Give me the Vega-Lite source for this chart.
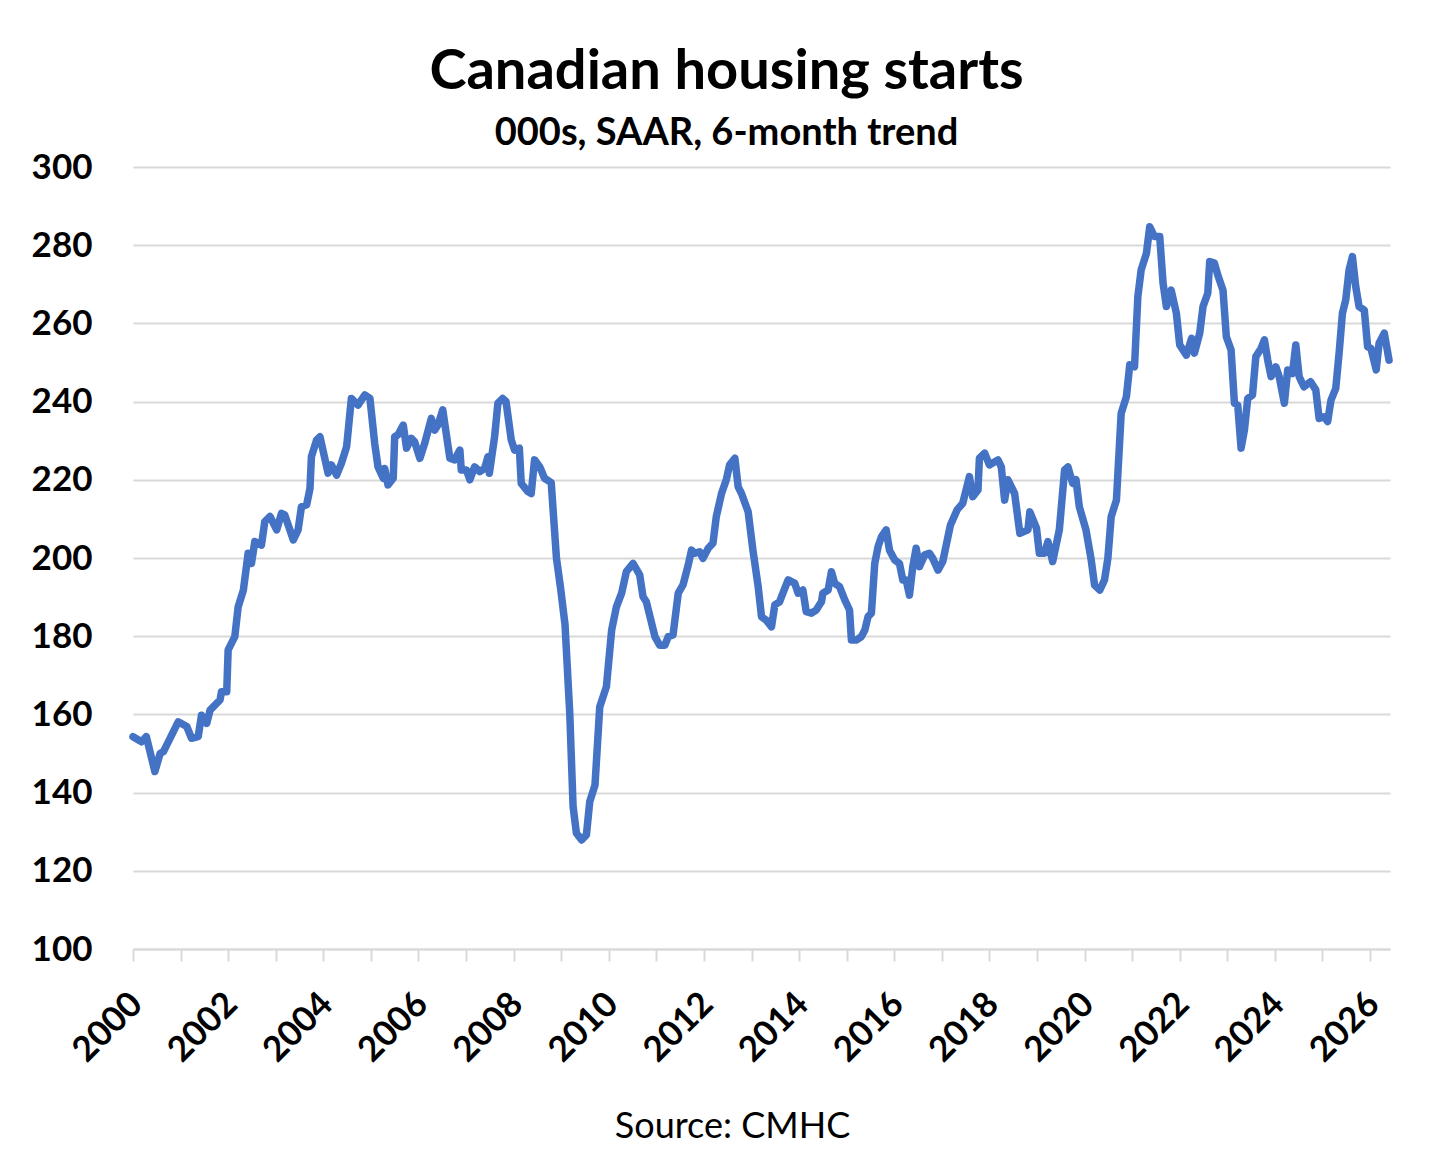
{
  "$schema": "https://vega.github.io/schema/vega-lite/v6.json",
  "description": "Canadian housing starts, 000s, SAAR, 6-month trend (source: CMHC).",
  "width": 1257,
  "height": 782,
  "autosize": {"type": "none"},
  "padding": {"left": 133, "top": 167, "right": 66, "bottom": 213},
  "background": "white",
  "title": {
    "text": "Canadian housing starts",
    "subtitle": "000s, SAAR, 6-month trend",
    "anchor": "middle",
    "frame": "group",
    "dx": -35,
    "offset": -4,
    "font": "Lato",
    "fontSize": 56,
    "fontWeight": "bold",
    "color": "black",
    "subtitleFont": "Lato",
    "subtitleFontSize": 38,
    "subtitleFontWeight": "bold",
    "subtitleColor": "black",
    "subtitlePadding": 14
  },
  "data": {
    "values": [
      {"year": 2000.00, "starts": 154.3}, {"year": 2000.18, "starts": 153.0}, {"year": 2000.28, "starts": 154.3},
      {"year": 2000.46, "starts": 145.4}, {"year": 2000.57, "starts": 150.0}, {"year": 2000.64, "starts": 150.5},
      {"year": 2000.95, "starts": 158.1}, {"year": 2001.13, "starts": 156.9}, {"year": 2001.23, "starts": 153.9},
      {"year": 2001.37, "starts": 154.3}, {"year": 2001.44, "starts": 159.8}, {"year": 2001.55, "starts": 157.7},
      {"year": 2001.62, "starts": 161.1}, {"year": 2001.83, "starts": 163.7}, {"year": 2001.86, "starts": 165.8},
      {"year": 2001.97, "starts": 165.8}, {"year": 2002.00, "starts": 176.5}, {"year": 2002.14, "starts": 179.9},
      {"year": 2002.21, "starts": 187.5}, {"year": 2002.32, "starts": 191.8}, {"year": 2002.42, "starts": 201.2},
      {"year": 2002.49, "starts": 198.6}, {"year": 2002.56, "starts": 204.2}, {"year": 2002.70, "starts": 203.3},
      {"year": 2002.77, "starts": 209.3}, {"year": 2002.88, "starts": 210.6}, {"year": 2003.02, "starts": 207.2},
      {"year": 2003.12, "starts": 211.4}, {"year": 2003.19, "starts": 211.0}, {"year": 2003.37, "starts": 204.6},
      {"year": 2003.47, "starts": 207.2}, {"year": 2003.54, "starts": 213.1}, {"year": 2003.65, "starts": 213.6},
      {"year": 2003.72, "starts": 217.8}, {"year": 2003.75, "starts": 225.9}, {"year": 2003.86, "starts": 230.2},
      {"year": 2003.93, "starts": 231.0}, {"year": 2004.10, "starts": 221.7}, {"year": 2004.17, "starts": 223.8},
      {"year": 2004.28, "starts": 221.2}, {"year": 2004.38, "starts": 224.2}, {"year": 2004.49, "starts": 228.5},
      {"year": 2004.59, "starts": 240.8}, {"year": 2004.73, "starts": 239.1}, {"year": 2004.87, "starts": 241.7},
      {"year": 2004.98, "starts": 240.8}, {"year": 2005.08, "starts": 229.3}, {"year": 2005.15, "starts": 223.3},
      {"year": 2005.26, "starts": 220.4}, {"year": 2005.29, "starts": 222.9}, {"year": 2005.36, "starts": 218.7},
      {"year": 2005.47, "starts": 220.4}, {"year": 2005.50, "starts": 231.0}, {"year": 2005.57, "starts": 231.5},
      {"year": 2005.68, "starts": 234.0}, {"year": 2005.75, "starts": 228.1}, {"year": 2005.85, "starts": 230.6},
      {"year": 2005.92, "starts": 229.7}, {"year": 2006.03, "starts": 225.5}, {"year": 2006.13, "starts": 229.3},
      {"year": 2006.27, "starts": 235.7}, {"year": 2006.34, "starts": 232.7}, {"year": 2006.41, "starts": 234.0},
      {"year": 2006.51, "starts": 237.9}, {"year": 2006.66, "starts": 225.5}, {"year": 2006.76, "starts": 225.1},
      {"year": 2006.87, "starts": 227.6}, {"year": 2006.90, "starts": 222.5}, {"year": 2007.01, "starts": 222.5},
      {"year": 2007.08, "starts": 220.0}, {"year": 2007.18, "starts": 223.3}, {"year": 2007.29, "starts": 222.1},
      {"year": 2007.39, "starts": 222.9}, {"year": 2007.46, "starts": 225.9}, {"year": 2007.49, "starts": 221.7},
      {"year": 2007.60, "starts": 231.0}, {"year": 2007.67, "starts": 239.6}, {"year": 2007.77, "starts": 240.8},
      {"year": 2007.84, "starts": 240.0}, {"year": 2007.95, "starts": 230.2}, {"year": 2008.02, "starts": 227.6},
      {"year": 2008.12, "starts": 228.1}, {"year": 2008.16, "starts": 219.1}, {"year": 2008.30, "starts": 217.0},
      {"year": 2008.37, "starts": 216.5}, {"year": 2008.44, "starts": 225.1}, {"year": 2008.55, "starts": 223.3},
      {"year": 2008.65, "starts": 220.4}, {"year": 2008.79, "starts": 219.3}, {"year": 2008.90, "starts": 200.0},
      {"year": 2008.99, "starts": 192.0}, {"year": 2009.08, "starts": 183.0}, {"year": 2009.18, "starts": 160.3},
      {"year": 2009.25, "starts": 136.4}, {"year": 2009.32, "starts": 129.6}, {"year": 2009.43, "starts": 127.9},
      {"year": 2009.53, "starts": 129.2}, {"year": 2009.60, "starts": 137.7}, {"year": 2009.71, "starts": 141.9},
      {"year": 2009.81, "starts": 161.9}, {"year": 2009.95, "starts": 167.1}, {"year": 2010.06, "starts": 181.5},
      {"year": 2010.16, "starts": 187.5}, {"year": 2010.27, "starts": 191.0}, {"year": 2010.37, "starts": 196.5},
      {"year": 2010.51, "starts": 198.6}, {"year": 2010.65, "starts": 195.7}, {"year": 2010.72, "starts": 190.1},
      {"year": 2010.79, "starts": 188.8}, {"year": 2010.97, "starts": 179.9}, {"year": 2011.07, "starts": 177.7},
      {"year": 2011.18, "starts": 177.7}, {"year": 2011.25, "starts": 179.9}, {"year": 2011.35, "starts": 180.3},
      {"year": 2011.46, "starts": 191.0}, {"year": 2011.56, "starts": 193.1}, {"year": 2011.67, "starts": 198.2},
      {"year": 2011.74, "starts": 202.0}, {"year": 2011.81, "starts": 201.2}, {"year": 2011.91, "starts": 201.6},
      {"year": 2011.98, "starts": 199.9}, {"year": 2012.09, "starts": 202.5}, {"year": 2012.19, "starts": 203.8},
      {"year": 2012.26, "starts": 210.6}, {"year": 2012.37, "starts": 216.5}, {"year": 2012.47, "starts": 220.0},
      {"year": 2012.54, "starts": 223.8}, {"year": 2012.65, "starts": 225.5}, {"year": 2012.72, "starts": 218.2},
      {"year": 2012.79, "starts": 216.5}, {"year": 2012.93, "starts": 211.8}, {"year": 2013.03, "starts": 202.0},
      {"year": 2013.14, "starts": 192.7}, {"year": 2013.21, "starts": 185.0}, {"year": 2013.31, "starts": 184.1},
      {"year": 2013.42, "starts": 182.4}, {"year": 2013.49, "starts": 188.0}, {"year": 2013.59, "starts": 188.8},
      {"year": 2013.66, "starts": 191.0}, {"year": 2013.77, "starts": 194.4}, {"year": 2013.91, "starts": 193.5},
      {"year": 2013.98, "starts": 191.0}, {"year": 2014.08, "starts": 191.8}, {"year": 2014.15, "starts": 186.3},
      {"year": 2014.26, "starts": 185.9}, {"year": 2014.36, "starts": 186.7}, {"year": 2014.47, "starts": 188.8},
      {"year": 2014.50, "starts": 191.0}, {"year": 2014.61, "starts": 191.8}, {"year": 2014.68, "starts": 196.5},
      {"year": 2014.75, "starts": 193.5}, {"year": 2014.85, "starts": 192.7}, {"year": 2014.96, "starts": 189.3},
      {"year": 2015.06, "starts": 186.7}, {"year": 2015.10, "starts": 179.0}, {"year": 2015.20, "starts": 179.0},
      {"year": 2015.31, "starts": 179.9}, {"year": 2015.38, "starts": 181.5}, {"year": 2015.45, "starts": 185.0},
      {"year": 2015.52, "starts": 185.9}, {"year": 2015.59, "starts": 198.6}, {"year": 2015.66, "starts": 202.9},
      {"year": 2015.73, "starts": 205.4}, {"year": 2015.83, "starts": 207.2}, {"year": 2015.90, "starts": 202.0},
      {"year": 2016.01, "starts": 199.5}, {"year": 2016.11, "starts": 198.6}, {"year": 2016.18, "starts": 194.4},
      {"year": 2016.25, "starts": 194.4}, {"year": 2016.32, "starts": 190.5}, {"year": 2016.39, "starts": 197.8},
      {"year": 2016.46, "starts": 202.5}, {"year": 2016.53, "starts": 197.8}, {"year": 2016.64, "starts": 200.8},
      {"year": 2016.74, "starts": 201.2}, {"year": 2016.81, "starts": 199.9}, {"year": 2016.92, "starts": 196.9},
      {"year": 2017.02, "starts": 199.1}, {"year": 2017.18, "starts": 208.4}, {"year": 2017.32, "starts": 212.3},
      {"year": 2017.44, "starts": 214.0}, {"year": 2017.58, "starts": 220.8}, {"year": 2017.65, "starts": 215.7},
      {"year": 2017.76, "starts": 217.4}, {"year": 2017.79, "starts": 225.5}, {"year": 2017.90, "starts": 226.8},
      {"year": 2018.00, "starts": 223.8}, {"year": 2018.18, "starts": 225.1}, {"year": 2018.25, "starts": 223.3},
      {"year": 2018.32, "starts": 214.8}, {"year": 2018.39, "starts": 220.0}, {"year": 2018.53, "starts": 216.5},
      {"year": 2018.64, "starts": 206.3}, {"year": 2018.81, "starts": 207.2}, {"year": 2018.85, "starts": 211.8},
      {"year": 2018.99, "starts": 207.6}, {"year": 2019.05, "starts": 201.2}, {"year": 2019.16, "starts": 201.2},
      {"year": 2019.23, "starts": 204.2}, {"year": 2019.33, "starts": 199.1}, {"year": 2019.47, "starts": 207.2},
      {"year": 2019.58, "starts": 222.5}, {"year": 2019.65, "starts": 223.3}, {"year": 2019.75, "starts": 219.1},
      {"year": 2019.82, "starts": 220.0}, {"year": 2019.89, "starts": 213.1}, {"year": 2020.03, "starts": 207.2},
      {"year": 2020.14, "starts": 199.5}, {"year": 2020.21, "starts": 193.1}, {"year": 2020.32, "starts": 191.8},
      {"year": 2020.42, "starts": 194.4}, {"year": 2020.49, "starts": 199.9}, {"year": 2020.56, "starts": 210.6},
      {"year": 2020.67, "starts": 214.8}, {"year": 2020.77, "starts": 237.0}, {"year": 2020.88, "starts": 241.3},
      {"year": 2020.95, "starts": 249.4}, {"year": 2021.05, "starts": 248.9}, {"year": 2021.12, "starts": 266.8},
      {"year": 2021.19, "starts": 273.7}, {"year": 2021.30, "starts": 277.9}, {"year": 2021.37, "starts": 284.7},
      {"year": 2021.47, "starts": 282.2}, {"year": 2021.58, "starts": 282.2}, {"year": 2021.65, "starts": 270.3},
      {"year": 2021.72, "starts": 264.3}, {"year": 2021.82, "starts": 268.5}, {"year": 2021.93, "starts": 262.6},
      {"year": 2022.00, "starts": 254.5}, {"year": 2022.14, "starts": 251.9}, {"year": 2022.25, "starts": 256.2},
      {"year": 2022.31, "starts": 252.4}, {"year": 2022.42, "starts": 257.5}, {"year": 2022.49, "starts": 264.3},
      {"year": 2022.59, "starts": 267.7}, {"year": 2022.63, "starts": 275.8}, {"year": 2022.73, "starts": 275.4},
      {"year": 2022.80, "starts": 272.4}, {"year": 2022.91, "starts": 268.5}, {"year": 2022.98, "starts": 256.6},
      {"year": 2023.08, "starts": 253.2}, {"year": 2023.15, "starts": 239.6}, {"year": 2023.22, "starts": 239.1},
      {"year": 2023.29, "starts": 228.1}, {"year": 2023.36, "starts": 232.7}, {"year": 2023.43, "starts": 240.8},
      {"year": 2023.53, "starts": 241.7}, {"year": 2023.60, "starts": 251.5}, {"year": 2023.71, "starts": 253.6},
      {"year": 2023.78, "starts": 255.8}, {"year": 2023.85, "starts": 250.6}, {"year": 2023.92, "starts": 246.4},
      {"year": 2024.02, "starts": 248.9}, {"year": 2024.09, "starts": 246.4}, {"year": 2024.20, "starts": 239.6},
      {"year": 2024.27, "starts": 248.1}, {"year": 2024.37, "starts": 247.2}, {"year": 2024.44, "starts": 254.5},
      {"year": 2024.51, "starts": 246.4}, {"year": 2024.61, "starts": 243.8}, {"year": 2024.75, "starts": 245.1},
      {"year": 2024.86, "starts": 243.0}, {"year": 2024.93, "starts": 235.7}, {"year": 2025.04, "starts": 236.1},
      {"year": 2025.11, "starts": 234.9}, {"year": 2025.18, "starts": 240.4}, {"year": 2025.28, "starts": 243.4},
      {"year": 2025.35, "starts": 252.4}, {"year": 2025.42, "starts": 262.6}, {"year": 2025.49, "starts": 266.0},
      {"year": 2025.56, "starts": 273.7}, {"year": 2025.63, "starts": 277.1}, {"year": 2025.70, "starts": 269.4},
      {"year": 2025.77, "starts": 264.3}, {"year": 2025.88, "starts": 263.4}, {"year": 2025.95, "starts": 254.0},
      {"year": 2026.02, "starts": 253.6}, {"year": 2026.13, "starts": 248.1}, {"year": 2026.19, "starts": 254.9},
      {"year": 2026.30, "starts": 257.5}, {"year": 2026.40, "starts": 250.6}
    ]
  },
  "mark": {"type": "line", "color": "#4472C4", "strokeWidth": 7.5, "strokeJoin": "round", "strokeCap": "round"},
  "encoding": {
    "x": {
      "field": "year",
      "type": "quantitative",
      "scale": {"domain": [2000, 2026.42], "nice": false, "zero": false},
      "axis": {
        "title": "Source: CMHC",
        "titleFont": "Lato",
        "titleFontSize": 36,
        "titleFontWeight": "normal",
        "titleColor": "black",
        "titleX": 599,
        "titleY": 188,
        "titleBaseline": "alphabetic",
        "titleAnchor": null,
        "titleAlign": "center",
        "values": [2000, 2001, 2002, 2003, 2004, 2005, 2006, 2007, 2008, 2009, 2010, 2011, 2012, 2013, 2014, 2015, 2016, 2017, 2018, 2019, 2020, 2021, 2022, 2023, 2024, 2025, 2026],
        "labelExpr": "datum.value % 2 === 0 ? format(datum.value, 'd') : ''",
        "labelAngle": -45,
        "labelAlign": "right",
        "labelBaseline": "middle",
        "labelFont": "Lato",
        "labelFontSize": 35,
        "labelFontWeight": "bold",
        "labelColor": "black",
        "labelPadding": 37,
        "labelOffset": 3,
        "labelOverlap": false,
        "labelFlush": false,
        "grid": false,
        "domainColor": "#d9d9d9",
        "domainWidth": 2,
        "tickColor": "#d9d9d9",
        "tickWidth": 2,
        "tickSize": 12
      }
    },
    "y": {
      "field": "starts",
      "type": "quantitative",
      "scale": {"domain": [100, 300], "nice": false, "zero": false},
      "axis": {
        "title": null,
        "values": [100, 120, 140, 160, 180, 200, 220, 240, 260, 280, 300],
        "labelFont": "Lato",
        "labelFontSize": 35,
        "labelFontWeight": "bold",
        "labelColor": "black",
        "labelPadding": 41,
        "ticks": false,
        "domain": false,
        "grid": true,
        "gridColor": "#d9d9d9",
        "gridWidth": 2
      }
    }
  },
  "config": {
    "view": {"stroke": null}
  }
}
